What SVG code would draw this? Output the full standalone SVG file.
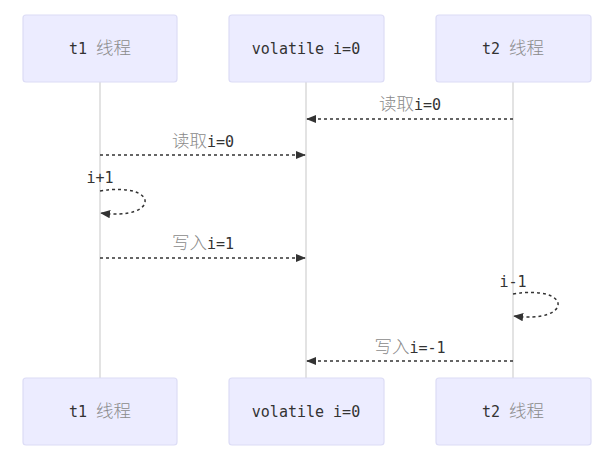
<svg xmlns="http://www.w3.org/2000/svg" width="611" height="459" viewBox="0 0 611 459">
<defs>
<style>
.actor{fill:#ECECFF;stroke:#DCDCF6;stroke-width:1.2}
.life{stroke:#D0D0D0;stroke-width:1.2}
.msg{fill:none;stroke:#333;stroke-width:1.5;stroke-dasharray:3,3}
.t{font-family:"DejaVu Sans Mono","Liberation Mono","Noto Sans CJK SC",monospace;font-size:15px;fill:#333;text-anchor:middle}
.c{fill:#8a8a8a;font-family:"Noto Sans CJK SC",sans-serif;font-size:17.5px;font-weight:300}
</style>
<marker id="ah" viewBox="0 0 12 12" refX="11" refY="6" markerWidth="10" markerHeight="10" orient="auto" markerUnits="userSpaceOnUse">
<path d="M0,1 L12,6 L0,11 z" fill="#333"/>
</marker>
</defs>
<rect width="611" height="459" fill="#fff"/>
<g id="lifelines">
<line class="life" x1="100" y1="82" x2="100" y2="378"/>
<line class="life" x1="306" y1="82" x2="306" y2="378"/>
<line class="life" x1="513" y1="82" x2="513" y2="378"/>
</g>
<g id="actor-t1-top"><rect class="actor" x="23" y="15" width="154" height="67" rx="3"/><text class="t" x="100" y="54">t1 <tspan class="c">线程</tspan></text></g>
<g id="actor-v-top"><rect class="actor" x="229" y="15" width="155" height="67" rx="3"/><text class="t" x="306" y="54">volatile i=0</text></g>
<g id="actor-t2-top"><rect class="actor" x="436" y="15" width="155" height="67" rx="3"/><text class="t" x="513" y="54">t2 <tspan class="c">线程</tspan></text></g>
<g id="actor-t1-bottom"><rect class="actor" x="23" y="378" width="154" height="67" rx="3"/><text class="t" x="100" y="417">t1 <tspan class="c">线程</tspan></text></g>
<g id="actor-v-bottom"><rect class="actor" x="229" y="378" width="155" height="67" rx="3"/><text class="t" x="306" y="417">volatile i=0</text></g>
<g id="actor-t2-bottom"><rect class="actor" x="436" y="378" width="155" height="67" rx="3"/><text class="t" x="513" y="417">t2 <tspan class="c">线程</tspan></text></g>
<g id="connectors">
<line class="msg" x1="513" y1="119" x2="307" y2="119" marker-end="url(#ah)"/>
<text class="t" x="410" y="110"><tspan class="c">读取</tspan>i=0</text>
<line class="msg" x1="100" y1="155" x2="305" y2="155" marker-end="url(#ah)"/>
<text class="t" x="203" y="147"><tspan class="c">读取</tspan>i=0</text>
<path class="msg" d="M100,191 C160,181 160,221 101,213" marker-end="url(#ah)"/>
<text class="t" x="100" y="183">i+1</text>
<line class="msg" x1="100" y1="258" x2="305" y2="258" marker-end="url(#ah)"/>
<text class="t" x="203" y="249"><tspan class="c">写入</tspan>i=1</text>
<path class="msg" d="M513,294 C573,284 573,324 514,316" marker-end="url(#ah)"/>
<text class="t" x="513" y="287">i-1</text>
<line class="msg" x1="513" y1="361" x2="307" y2="361" marker-end="url(#ah)"/>
<text class="t" x="410" y="353"><tspan class="c">写入</tspan>i=-1</text>
</g>
</svg>
